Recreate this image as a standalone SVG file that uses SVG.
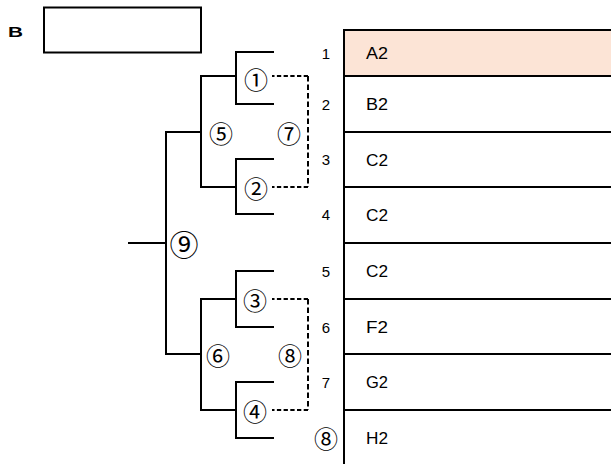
<svg xmlns="http://www.w3.org/2000/svg" width="611" height="464" viewBox="0 0 611 464">
<style>
.ln{stroke:#000;stroke-width:2;fill:none;stroke-linecap:square}
.dh{stroke:#000;stroke-width:2;fill:none;stroke-dasharray:4.3 2.4}
.dv{stroke:#000;stroke-width:2;fill:none;stroke-dasharray:5.5 3}
.num{font-family:"Liberation Sans",Arial,sans-serif;font-size:15px;fill:#000;text-anchor:middle}
.lbl{font-family:"Liberation Sans",Arial,sans-serif;font-size:16px;fill:#000}
.circ{font-family:"Noto Sans CJK JP","DejaVu Sans",sans-serif;font-size:24px;fill:#000;text-anchor:middle}
.big{font-size:29px}
</style>
<rect width="611" height="464" fill="#fff"/>
<g id="header">
<text x="8" y="37" font-family="Liberation Sans,Arial,sans-serif" font-weight="bold" font-size="14" textLength="15" lengthAdjust="spacingAndGlyphs">B</text>
<rect x="44" y="7.5" width="157" height="45" class="ln"/>
</g>
<g id="table">
<rect x="345" y="31" width="266" height="44" fill="#FCE4D6"/>
<path class="ln" d="M344 30H611M344 30V464M344 76H611M344 132H611M344 187H611M344 243H611M344 299H611M344 354H611M344 410H611"/>
</g>
<g id="row1"><text class="num" x="326" y="58.5">1</text><text class="lbl" x="366" y="59" textLength="22" lengthAdjust="spacingAndGlyphs">A2</text></g>
<g id="row2"><text class="num" x="326" y="109.5">2</text><text class="lbl" x="366" y="110" textLength="22" lengthAdjust="spacingAndGlyphs">B2</text></g>
<g id="row3"><text class="num" x="326" y="165">3</text><text class="lbl" x="366" y="165.5" textLength="22" lengthAdjust="spacingAndGlyphs">C2</text></g>
<g id="row4"><text class="num" x="326" y="220">4</text><text class="lbl" x="366" y="220.5" textLength="22" lengthAdjust="spacingAndGlyphs">C2</text></g>
<g id="row5"><text class="num" x="326" y="276.5">5</text><text class="lbl" x="366" y="277" textLength="22" lengthAdjust="spacingAndGlyphs">C2</text></g>
<g id="row6"><text class="num" x="326" y="332.5">6</text><text class="lbl" x="366" y="333" textLength="22" lengthAdjust="spacingAndGlyphs">F2</text></g>
<g id="row7"><text class="num" x="326" y="387.5">7</text><text class="lbl" x="366" y="388" textLength="22" lengthAdjust="spacingAndGlyphs">G2</text></g>
<g id="row8"><text class="circ" x="326" y="448">⑧</text><text class="lbl" x="366" y="443.5" textLength="22" lengthAdjust="spacingAndGlyphs">H2</text></g>
<g id="connectors">
<path class="ln" d="M273 52H236V104H273M273 159H236V214H273M273 271H236V327H273M273 382H236V438H273"/>
<path class="ln" d="M236 76H201V187H236M236 299H201V410H236"/>
<path class="ln" d="M201 132H166V354H201M166 243H129"/>
<path class="dh" d="M308 76H272M308 187H272M308 299H272M308 410H272"/>
<path class="dv" d="M308 76V187M308 299V410"/>
</g>
<g id="m1"><text class="circ" x="256" y="89">①</text></g>
<g id="m2"><text class="circ" x="256" y="198">②</text></g>
<g id="m3"><text class="circ" x="255" y="309.5">③</text></g>
<g id="m4"><text class="circ" x="255" y="420.5">④</text></g>
<g id="m5"><text class="circ" x="221" y="142.5">⑤</text></g>
<g id="m6"><text class="circ" x="218" y="365">⑥</text></g>
<g id="m7"><text class="circ" x="289" y="142.5">⑦</text></g>
<g id="m8"><text class="circ" x="290" y="364.5">⑧</text></g>
<g id="m9"><text class="circ big" x="184" y="255.5">⑨</text></g>
</svg>
